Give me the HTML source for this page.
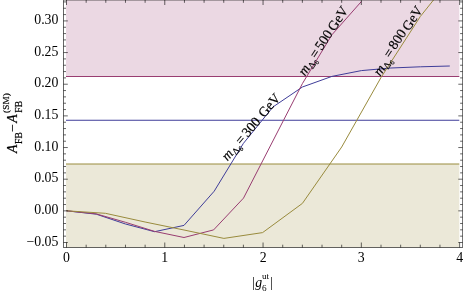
<!DOCTYPE html>
<html><head><meta charset="utf-8"><title>plot</title>
<style>
html,body{margin:0;padding:0;background:#fff;}
body{width:463px;height:295px;overflow:hidden;}
svg{display:block;will-change:transform;}
text{font-family:"Liberation Serif",serif;fill:#000;}
</style></head><body>
<svg width="463" height="295" viewBox="0 0 463 295">
<rect x="0" y="0" width="463" height="295" fill="#fff"/>
<rect x="66.0" y="0" width="393.3" height="76.5" fill="#ebd8e3"/>
<rect x="66.0" y="164" width="393.3" height="83.5" fill="#ebe8d8"/>
<g fill="none" stroke-width="1" stroke-linejoin="round">
<line x1="66.0" y1="76.5" x2="459.3" y2="76.5" stroke="#993d71"/>
<line x1="66.0" y1="120.25" x2="459.3" y2="120.25" stroke="#3f3d99"/>
<line x1="66.0" y1="164" x2="459.3" y2="164" stroke="#998b3d"/>
<polyline points="66.5,210.8 96.3,214.2 125.5,224.0 154.6,231.7 184.0,225.4 214.2,191.2 243.4,143.4 272.9,107.0 302.4,87.0 331.9,76.4 361.4,70.6 390.9,68.0 420.3,66.8 449.8,66.0" stroke="#3f3d99"/>
<polyline points="66.5,210.8 96.0,213.8 125.5,222.3 154.6,231.4 184.0,237.5 213.6,229.9 243.5,198.1 302.4,83.6 331.9,34.8 361.4,1.5" stroke="#993d71"/>
<polyline points="66.5,210.8 105.4,213.3 145.1,222.0 184.0,230.0 223.9,238.4 262.6,232.6 302.4,203.4 341.7,147.0 381.0,77.5 420.3,16.5 437.5,-5.0" stroke="#998b3d"/>
</g>
<g stroke="#000" stroke-opacity="0.6" stroke-width="1" fill="none">
<rect x="63.5" y="0.0" width="399.1" height="247.5"/>
<line x1="63.5" y1="242.50" x2="67.8" y2="242.50"/>
<line x1="462.6" y1="242.50" x2="458.3" y2="242.50"/>
<line x1="63.5" y1="236.17" x2="66.0" y2="236.17"/>
<line x1="462.6" y1="236.17" x2="460.1" y2="236.17"/>
<line x1="63.5" y1="229.84" x2="66.0" y2="229.84"/>
<line x1="462.6" y1="229.84" x2="460.1" y2="229.84"/>
<line x1="63.5" y1="223.51" x2="66.0" y2="223.51"/>
<line x1="462.6" y1="223.51" x2="460.1" y2="223.51"/>
<line x1="63.5" y1="217.18" x2="66.0" y2="217.18"/>
<line x1="462.6" y1="217.18" x2="460.1" y2="217.18"/>
<line x1="63.5" y1="210.85" x2="67.8" y2="210.85"/>
<line x1="462.6" y1="210.85" x2="458.3" y2="210.85"/>
<line x1="63.5" y1="204.52" x2="66.0" y2="204.52"/>
<line x1="462.6" y1="204.52" x2="460.1" y2="204.52"/>
<line x1="63.5" y1="198.19" x2="66.0" y2="198.19"/>
<line x1="462.6" y1="198.19" x2="460.1" y2="198.19"/>
<line x1="63.5" y1="191.86" x2="66.0" y2="191.86"/>
<line x1="462.6" y1="191.86" x2="460.1" y2="191.86"/>
<line x1="63.5" y1="185.53" x2="66.0" y2="185.53"/>
<line x1="462.6" y1="185.53" x2="460.1" y2="185.53"/>
<line x1="63.5" y1="179.19" x2="67.8" y2="179.19"/>
<line x1="462.6" y1="179.19" x2="458.3" y2="179.19"/>
<line x1="63.5" y1="172.86" x2="66.0" y2="172.86"/>
<line x1="462.6" y1="172.86" x2="460.1" y2="172.86"/>
<line x1="63.5" y1="166.53" x2="66.0" y2="166.53"/>
<line x1="462.6" y1="166.53" x2="460.1" y2="166.53"/>
<line x1="63.5" y1="160.20" x2="66.0" y2="160.20"/>
<line x1="462.6" y1="160.20" x2="460.1" y2="160.20"/>
<line x1="63.5" y1="153.87" x2="66.0" y2="153.87"/>
<line x1="462.6" y1="153.87" x2="460.1" y2="153.87"/>
<line x1="63.5" y1="147.54" x2="67.8" y2="147.54"/>
<line x1="462.6" y1="147.54" x2="458.3" y2="147.54"/>
<line x1="63.5" y1="141.21" x2="66.0" y2="141.21"/>
<line x1="462.6" y1="141.21" x2="460.1" y2="141.21"/>
<line x1="63.5" y1="134.88" x2="66.0" y2="134.88"/>
<line x1="462.6" y1="134.88" x2="460.1" y2="134.88"/>
<line x1="63.5" y1="128.55" x2="66.0" y2="128.55"/>
<line x1="462.6" y1="128.55" x2="460.1" y2="128.55"/>
<line x1="63.5" y1="122.22" x2="66.0" y2="122.22"/>
<line x1="462.6" y1="122.22" x2="460.1" y2="122.22"/>
<line x1="63.5" y1="115.88" x2="67.8" y2="115.88"/>
<line x1="462.6" y1="115.88" x2="458.3" y2="115.88"/>
<line x1="63.5" y1="109.55" x2="66.0" y2="109.55"/>
<line x1="462.6" y1="109.55" x2="460.1" y2="109.55"/>
<line x1="63.5" y1="103.22" x2="66.0" y2="103.22"/>
<line x1="462.6" y1="103.22" x2="460.1" y2="103.22"/>
<line x1="63.5" y1="96.89" x2="66.0" y2="96.89"/>
<line x1="462.6" y1="96.89" x2="460.1" y2="96.89"/>
<line x1="63.5" y1="90.56" x2="66.0" y2="90.56"/>
<line x1="462.6" y1="90.56" x2="460.1" y2="90.56"/>
<line x1="63.5" y1="84.23" x2="67.8" y2="84.23"/>
<line x1="462.6" y1="84.23" x2="458.3" y2="84.23"/>
<line x1="63.5" y1="77.90" x2="66.0" y2="77.90"/>
<line x1="462.6" y1="77.90" x2="460.1" y2="77.90"/>
<line x1="63.5" y1="71.57" x2="66.0" y2="71.57"/>
<line x1="462.6" y1="71.57" x2="460.1" y2="71.57"/>
<line x1="63.5" y1="65.24" x2="66.0" y2="65.24"/>
<line x1="462.6" y1="65.24" x2="460.1" y2="65.24"/>
<line x1="63.5" y1="58.91" x2="66.0" y2="58.91"/>
<line x1="462.6" y1="58.91" x2="460.1" y2="58.91"/>
<line x1="63.5" y1="52.57" x2="67.8" y2="52.57"/>
<line x1="462.6" y1="52.57" x2="458.3" y2="52.57"/>
<line x1="63.5" y1="46.24" x2="66.0" y2="46.24"/>
<line x1="462.6" y1="46.24" x2="460.1" y2="46.24"/>
<line x1="63.5" y1="39.91" x2="66.0" y2="39.91"/>
<line x1="462.6" y1="39.91" x2="460.1" y2="39.91"/>
<line x1="63.5" y1="33.58" x2="66.0" y2="33.58"/>
<line x1="462.6" y1="33.58" x2="460.1" y2="33.58"/>
<line x1="63.5" y1="27.25" x2="66.0" y2="27.25"/>
<line x1="462.6" y1="27.25" x2="460.1" y2="27.25"/>
<line x1="63.5" y1="20.92" x2="67.8" y2="20.92"/>
<line x1="462.6" y1="20.92" x2="458.3" y2="20.92"/>
<line x1="63.5" y1="14.59" x2="66.0" y2="14.59"/>
<line x1="462.6" y1="14.59" x2="460.1" y2="14.59"/>
<line x1="63.5" y1="8.26" x2="66.0" y2="8.26"/>
<line x1="462.6" y1="8.26" x2="460.1" y2="8.26"/>
<line x1="63.5" y1="1.93" x2="66.0" y2="1.93"/>
<line x1="462.6" y1="1.93" x2="460.1" y2="1.93"/>
<line x1="66.50" y1="247.5" x2="66.50" y2="242.5"/>
<line x1="66.50" y1="0.0" x2="66.50" y2="5.0"/>
<line x1="86.16" y1="247.5" x2="86.16" y2="244.7"/>
<line x1="86.16" y1="0.0" x2="86.16" y2="2.8"/>
<line x1="105.81" y1="247.5" x2="105.81" y2="244.7"/>
<line x1="105.81" y1="0.0" x2="105.81" y2="2.8"/>
<line x1="125.47" y1="247.5" x2="125.47" y2="244.7"/>
<line x1="125.47" y1="0.0" x2="125.47" y2="2.8"/>
<line x1="145.12" y1="247.5" x2="145.12" y2="244.7"/>
<line x1="145.12" y1="0.0" x2="145.12" y2="2.8"/>
<line x1="164.78" y1="247.5" x2="164.78" y2="242.5"/>
<line x1="164.78" y1="0.0" x2="164.78" y2="5.0"/>
<line x1="184.44" y1="247.5" x2="184.44" y2="244.7"/>
<line x1="184.44" y1="0.0" x2="184.44" y2="2.8"/>
<line x1="204.09" y1="247.5" x2="204.09" y2="244.7"/>
<line x1="204.09" y1="0.0" x2="204.09" y2="2.8"/>
<line x1="223.75" y1="247.5" x2="223.75" y2="244.7"/>
<line x1="223.75" y1="0.0" x2="223.75" y2="2.8"/>
<line x1="243.40" y1="247.5" x2="243.40" y2="244.7"/>
<line x1="243.40" y1="0.0" x2="243.40" y2="2.8"/>
<line x1="263.06" y1="247.5" x2="263.06" y2="242.5"/>
<line x1="263.06" y1="0.0" x2="263.06" y2="5.0"/>
<line x1="282.72" y1="247.5" x2="282.72" y2="244.7"/>
<line x1="282.72" y1="0.0" x2="282.72" y2="2.8"/>
<line x1="302.37" y1="247.5" x2="302.37" y2="244.7"/>
<line x1="302.37" y1="0.0" x2="302.37" y2="2.8"/>
<line x1="322.03" y1="247.5" x2="322.03" y2="244.7"/>
<line x1="322.03" y1="0.0" x2="322.03" y2="2.8"/>
<line x1="341.68" y1="247.5" x2="341.68" y2="244.7"/>
<line x1="341.68" y1="0.0" x2="341.68" y2="2.8"/>
<line x1="361.34" y1="247.5" x2="361.34" y2="242.5"/>
<line x1="361.34" y1="0.0" x2="361.34" y2="5.0"/>
<line x1="381.00" y1="247.5" x2="381.00" y2="244.7"/>
<line x1="381.00" y1="0.0" x2="381.00" y2="2.8"/>
<line x1="400.65" y1="247.5" x2="400.65" y2="244.7"/>
<line x1="400.65" y1="0.0" x2="400.65" y2="2.8"/>
<line x1="420.31" y1="247.5" x2="420.31" y2="244.7"/>
<line x1="420.31" y1="0.0" x2="420.31" y2="2.8"/>
<line x1="439.96" y1="247.5" x2="439.96" y2="244.7"/>
<line x1="439.96" y1="0.0" x2="439.96" y2="2.8"/>
<line x1="459.62" y1="247.5" x2="459.62" y2="242.5"/>
<line x1="459.62" y1="0.0" x2="459.62" y2="5.0"/>
</g>
<g font-size="13.8">
<text x="58.4" y="24.1" text-anchor="end">0.30</text>
<text x="58.4" y="55.8" text-anchor="end">0.25</text>
<text x="58.4" y="87.4" text-anchor="end">0.20</text>
<text x="58.4" y="119.1" text-anchor="end">0.15</text>
<text x="58.4" y="150.7" text-anchor="end">0.10</text>
<text x="58.4" y="182.4" text-anchor="end">0.05</text>
<text x="58.4" y="214.0" text-anchor="end">0.00</text>
<text x="58.4" y="245.7" text-anchor="end">−0.05</text>
<text x="66.5" y="261.9" text-anchor="middle">0</text>
<text x="164.8" y="261.9" text-anchor="middle">1</text>
<text x="263.1" y="261.9" text-anchor="middle">2</text>
<text x="361.3" y="261.9" text-anchor="middle">3</text>
<text x="459.6" y="261.9" text-anchor="middle">4</text>
</g>
<!-- y axis label -->
<g transform="translate(16.6,153.1) rotate(-90)" font-size="13.8" stroke="#000" stroke-width="0.2">
<text x="0" y="0" font-style="italic">A</text>
<text x="9.1" y="5.2" font-size="9.7">FB</text>
<text x="21.2" y="0">−</text>
<text x="30.4" y="0" font-style="italic">A</text>
<text x="40.4" y="5.2" font-size="9.7">FB</text>
<text x="40.1" y="-7.4" font-size="9.2" textLength="19.8" lengthAdjust="spacing">(SM)</text>
</g>
<!-- x axis label -->
<g font-size="13.8">
<text x="252" y="287">|</text>
<text x="255.3" y="287.4" font-style="italic">g</text>
<text x="262" y="290.9" font-size="9.2">6</text>
<text x="262" y="279.4" font-size="9.2">ut</text>
<text x="270.3" y="287">|</text>
</g>
<!-- curve labels -->
<g transform="translate(227.6,161.6) rotate(-49.8)" font-size="13.8" stroke="#000" stroke-width="0.2">
<text x="0" y="0" font-style="italic">m</text><text x="10.2" y="2.7" font-size="9.7">Δ</text><text x="16.7" y="4.2" font-size="7">6</text><text x="21.2" y="0">=</text><text x="31.2" y="0">300</text><text x="56.8" y="0">GeV</text>
</g><g transform="translate(304.9,76.5) rotate(-56.5)" font-size="13.8" stroke="#000" stroke-width="0.2">
<text x="0" y="0" font-style="italic">m</text><text x="10.2" y="2.7" font-size="9.7">Δ</text><text x="16.7" y="4.2" font-size="7">6</text><text x="20.7" y="0">=</text><text x="30.5" y="0">500</text><text x="53.5" y="0">GeV</text>
</g><g transform="translate(380.2,76.8) rotate(-56.5)" font-size="13.8" stroke="#000" stroke-width="0.2">
<text x="0" y="0" font-style="italic">m</text><text x="10.2" y="2.7" font-size="9.7">Δ</text><text x="16.7" y="4.2" font-size="7">6</text><text x="20.7" y="-1.5">=</text><text x="30.5" y="-2.0">800</text><text x="53.5" y="-1.0">GeV</text>
</g>
</svg>
</body></html>
